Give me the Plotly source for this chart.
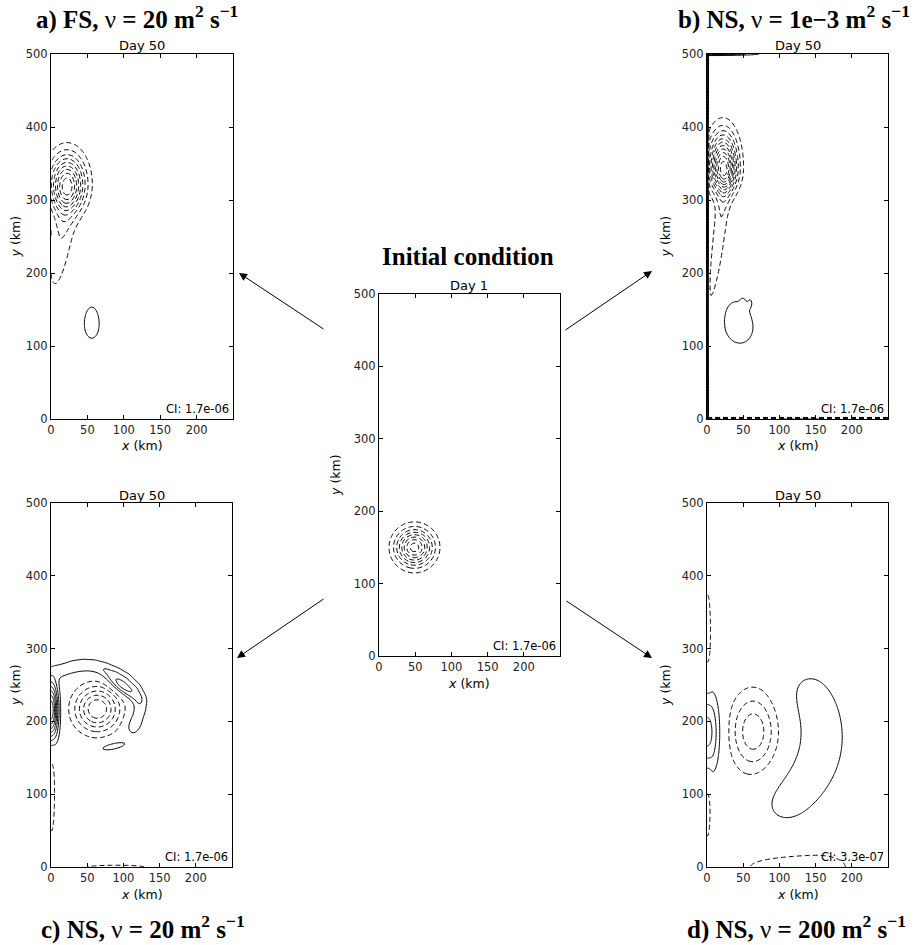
import numpy as np
import plotly.graph_objects as go

W, H = 922, 945

# vorticity anomaly blobs, amplitudes in units of the contour interval
# (x0 km, y0 km, sigma_u, sigma_v_down, sigma_v_up, angle deg, amplitude)
blobs_day1 = [(49, 150, 17, 17, 17, 0, -8.5)]

blobs_a = [
    (22, 322, 16.5, 24, 27, 0, -9.0),
    (20, 290, 12, 84, 22, -8, -2.2),
    (56, 130, 10.5, 20, 24, 0, 1.6),
]

blobs_b = [
    (22, 345, 13, 22, 31, 0, -11.0),
    (25, 320, 7, 150, 20, -7, -2.0),
    (44, 128, 20, 25, 34, 10, 1.6),
    (50, 158, 3, 6, 6, 0, 0.5),
    (60, 160, 3, 6, 6, 0, 0.5),
    (0, 250, 1.2, 1e5, 1e5, 0, 5.0),
    (0, 500, 40, 1.2, 1.2, 0, 5.0),
    (125, 0, 1e5, 1.2, 1.2, 0, -5.0),
]

blobs_c = [
    (64, 217, 21, 21, 21, 0, -6.0),
    (0, 215, 7, 28, 28, 0, 8.0),
    (97, 248, 18, 7, 7, -37, 3.2),
    (15, 270, 8, 8, 8, 0, 1.35), (30, 275, 8, 8, 8, 0, 1.35),
    (45, 277, 8, 8, 8, 0, 1.35), (60, 276, 8, 8, 8, 0, 1.35),
    (75, 272, 8, 8, 8, 0, 1.35), (90, 266, 8, 8, 8, 0, 1.35),
    (104, 258, 8, 8, 8, 0, 1.35), (116, 246, 8, 8, 8, 0, 1.35),
    (123, 231, 8, 8, 8, 0, 1.35), (122, 215, 8, 8, 8, 0, 1.35),
    (117, 201, 8, 8, 8, 0, 1.35), (112, 190, 8, 8, 8, 0, 1.2),
    (85, 166, 21, 5.5, 5.5, 12, 1.5),
    (1, 103, 4, 55, 55, 0, -1.6),
    (90, 0, 40, 2.5, 2.5, 0, -1.6),
]

blobs_d = [
    (0, 185, 13, 40, 40, 0, 3.7),
    (64, 186, 23, 38, 38, 0, -3.7),
    (140, 245, 27, 27, 27, 0, 0.95), (157, 210, 27, 27, 27, 0, 0.95),
    (161, 173, 27, 27, 27, 0, 0.95), (152, 138, 27, 27, 27, 0, 0.95),
    (131, 108, 27, 27, 27, 0, 0.95), (103, 84, 27, 27, 27, 0, 0.95),
    (1, 322, 4, 53, 53, 0, -1.6),
    (1, 83, 4, 42, 42, 0, -1.5),
    (150, 0, 20, 110, 50, -90, -1.4),
]

panel_titles = ["<b>a) FS, </b>ν<b> = 20 m<sup>2</sup> s<sup>−1</sup></b>",
                "<b>b) NS, </b>ν<b> = 1e−3 m<sup>2</sup> s<sup>−1</sup></b>",
                "<b>Initial condition</b>",
                "<b>c) NS, </b>ν<b> = 20 m<sup>2</sup> s<sup>−1</sup></b>",
                "<b>d) NS, </b>ν<b> = 200 m<sup>2</sup> s<sup>−1</sup></b>"]
day_labels = ["Day 50", "Day 50", "Day 1", "Day 50", "Day 50"]
ci_labels = ["CI: 1.7e-06", "CI: 1.7e-06", "CI: 1.7e-06", "CI: 1.7e-06", "CI: 3.3e-07"]
xticks = [0, 50, 100, 150, 200]
yticks = [0, 100, 200, 300, 400, 500]

# model grid (fine near the walls)
xs = np.unique(np.round(np.concatenate([np.arange(0, 6, 0.2), np.arange(6, 250.01, 2.0)]), 3))
ys = np.unique(np.round(np.concatenate([np.arange(0, 6, 0.2), np.arange(6, 494, 2.0),
                                        np.arange(494, 500.01, 0.2)]), 3))
X, Y = np.meshgrid(xs, ys)


def field(blobs):
    z = np.zeros_like(X)
    for x0, y0, su, sd, sup, ang, amp in blobs:
        t = np.deg2rad(ang)
        dx, dy = X - x0, Y - y0
        u = dx * np.cos(t) + dy * np.sin(t)
        v = -dx * np.sin(t) + dy * np.cos(t)
        sv = np.where(v > 0, sup, sd)
        z += amp * np.exp(-0.5 * (u / su) ** 2 - 0.5 * (v / sv) ** 2)
    return z.astype(np.float32)


def px(x):
    return x / W


def py(y):
    return 1 - y / H


# panel frames in pixels: left, right, top, bottom
panels = [
    dict(blobs=blobs_a, frame=(51, 233, 54, 419), title=(137, 17), ylab=15),
    dict(blobs=blobs_b, frame=(707, 888, 54, 419), title=(794, 17), ylab=665),
    dict(blobs=blobs_day1, frame=(379, 560, 294, 656), title=(468, 256), ylab=335),
    dict(blobs=blobs_c, frame=(51, 232, 503, 867), title=(143, 927), ylab=15),
    dict(blobs=blobs_d, frame=(707, 888, 503, 867), title=(796, 927), ylab=665),
]

fig = go.Figure()
ann = []


def txt(x, y, s, size, family="DejaVu Sans", **kw):
    d = dict(x=px(x), y=py(y), xref="paper", yref="paper", text=s, showarrow=False,
             font=dict(size=size, family=family, color="black"),
             xanchor="center", yanchor="middle")
    d.update(kw)
    ann.append(d)


for i, p in enumerate(panels):
    n = i + 1
    l, r, t, b = p["frame"]
    z = field(p["blobs"])
    for lo, hi, dash in ((-40, -1, "5px,3px"), (1, 40, "solid")):
        fig.add_trace(go.Contour(
            x=xs, y=ys, z=z, xaxis=f"x{n}", yaxis=f"y{n}",
            autocontour=False,
            contours=dict(start=lo, end=hi, size=1, coloring="none"),
            line=dict(color="black", width=1, dash=dash, smoothing=1),
            showscale=False, hoverinfo="skip",
        ))
    axstyle = dict(showline=True, linecolor="black", linewidth=1, mirror="ticks",
                   ticks="inside", ticklen=4, tickcolor="black", showgrid=False,
                   zeroline=False, automargin=False,
                   tickfont=dict(family="DejaVu Sans", size=11.5, color="#222"))
    fig.update_layout(**{
        f"xaxis{n}": dict(domain=[px(l), px(r)], range=[0, 250], tickvals=xticks,
                          anchor=f"y{n}", **axstyle),
        f"yaxis{n}": dict(domain=[py(b), py(t)], range=[0, 500], tickvals=yticks,
                          anchor=f"x{n}", **axstyle),
    })
    cx = (l + r) / 2
    txt(p["title"][0], p["title"][1], panel_titles[i], 25, family="Liberation Serif")
    txt(cx, t - 8, day_labels[i], 13)
    txt(cx, b + 27, "<i>x</i> (km)", 12.5)
    txt(p["ylab"], (t + b) / 2, "<i>y</i> (km)", 12.5, textangle=-90)
    txt(r - 2, b - 1, ci_labels[i], 11.5, xanchor="right", yanchor="bottom")

# arrows from the initial condition to each experiment
arrows = [((239, 273), (325, 330)), ((652, 271), (564, 331)),
          ((237, 658), (325, 598)), ((652, 658), (565, 600))]
for (hx, hy), (tx, ty) in arrows:
    ann.append(dict(x=px(hx), y=py(hy), xref="paper", yref="paper", text="",
                    showarrow=True, ax=tx - hx, ay=ty - hy, arrowhead=2,
                    arrowsize=1.6, arrowwidth=1, arrowcolor="black", standoff=0))

fig.update_layout(width=W, height=H, autosize=False, margin=dict(l=0, r=0, t=0, b=0),
                  paper_bgcolor="white", plot_bgcolor="white", showlegend=False,
                  annotations=ann)
fig.write_html("out.html", config={"displayModeBar": False},
               post_script="document.body.style.margin='0px';"
                           "document.body.style.overflow='hidden';")
